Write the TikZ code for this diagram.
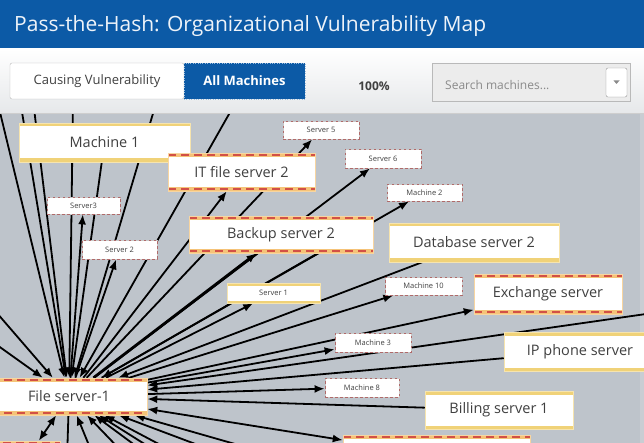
\documentclass[tikz,border=0pt]{standalone}
\usepackage{fontspec}
\setmainfont{Open Sans}
\usetikzlibrary{arrows.meta,backgrounds}

\definecolor{barblue}{HTML}{0C5AA6}
\definecolor{titlewhite}{HTML}{EEF3F9}
\definecolor{tbgray}{HTML}{E6E8EA}
\definecolor{graphbg}{HTML}{BEC4CB}
\definecolor{stripgray}{HTML}{C9CDD3}
\definecolor{bandyel}{HTML}{F0D278}
\definecolor{bandorg}{HTML}{F5C378}
\definecolor{bandred}{HTML}{D25046}
\definecolor{labeltext}{HTML}{404040}
\definecolor{smgray}{HTML}{C8C8C8}
\definecolor{smred}{HTML}{B06A6A}
\definecolor{btnline}{HTML}{B9B9B9}
\definecolor{searchfill}{HTML}{ECECEC}
\definecolor{searchtext}{HTML}{8A8A8A}

\newcommand{\biglabel}{\fontsize{14.5}{17}\selectfont}
\newcommand{\smalllabel}{\fontsize{7.5}{9}\selectfont}
\newcommand{\maptitle}{\fontsize{21}{25}\selectfont}
\newcommand{\barlabel}{\fontsize{13}{15}\selectfont}

\tikzset{
  yelbox/.style={rectangle, inner sep=0pt, fill=white, draw=bandyel!60, line width=0.5pt,
    text=labeltext, font=\biglabel,
    path picture={
      \fill[bandyel] (path picture bounding box.north west) rectangle ([yshift=-3.5pt]path picture bounding box.north east);
      \fill[bandyel] (path picture bounding box.south west) rectangle ([yshift=3.5pt]path picture bounding box.south east);
    }},
  tinyyel/.style={yelbox, font=\smalllabel,
    path picture={
      \fill[bandyel] (path picture bounding box.north west) rectangle ([yshift=-2.5pt]path picture bounding box.north east);
      \fill[bandyel] (path picture bounding box.south west) rectangle ([yshift=2.5pt]path picture bounding box.south east);
    }},
  redbox/.style={rectangle, inner sep=0pt, fill=white, draw=bandorg!70, line width=0.5pt,
    text=labeltext, font=\biglabel,
    path picture={
      \fill[bandorg] (path picture bounding box.north west) rectangle ([yshift=-4pt]path picture bounding box.north east);
      \fill[bandorg] (path picture bounding box.south west) rectangle ([yshift=4pt]path picture bounding box.south east);
      \draw[bandred, line width=2pt, dash pattern=on 8pt off 5pt]
        ([yshift=-2pt]path picture bounding box.north west) -- ([yshift=-2pt]path picture bounding box.north east);
      \draw[bandred, line width=2pt, dash pattern=on 8pt off 5pt]
        ([yshift=2pt]path picture bounding box.south west) -- ([yshift=2pt]path picture bounding box.south east);
    }},
  tinybox/.style={rectangle, inner sep=0pt, fill=white, draw=smgray, line width=0.8pt,
    text=labeltext, font=\smalllabel,
    postaction={draw=smred, line width=0.8pt, dash pattern=on 2.5pt off 2.5pt}},
  edge/.style={draw=black, line width=1.8pt, -{Latex[length=10pt,width=8pt]}},
  bothway/.style={draw=black, line width=1.8pt, {Latex[length=10pt,width=8pt]}-{Latex[length=10pt,width=8pt]}},
}

\begin{document}
\begin{tikzpicture}[x=1pt,y=-1pt]
  \useasboundingbox (0,0) rectangle (644,443);
  \clip (0,0) rectangle (644,443);

  % machines
  \node[redbox, minimum width=156pt, minimum height=37pt] (fileserver) at (69,396.5) {File server-1};
  \node[yelbox, minimum width=171pt, minimum height=39pt] (machA) at (104.5,142.5) {Machine 1};
  \node[redbox, minimum width=147pt, minimum height=38pt] (itfs) at (241.5,172) {IT file server 2};
  \node[tinybox, minimum width=76pt, minimum height=18pt] (srvFive) at (321,130) {Server 5};
  \node[tinybox, minimum width=76pt, minimum height=19pt] (srvSix) at (383,158.5) {Server 6};
  \node[tinybox, minimum width=75pt, minimum height=17pt] (machB) at (424.5,192.5) {Machine 2};
  \node[tinybox, minimum width=73pt, minimum height=17pt] (srvThree) at (83.5,205.5) {Server3};
  \node[tinybox, minimum width=75pt, minimum height=19pt] (srvTwo) at (119.5,249.5) {Server 2};
  \node[redbox, minimum width=184pt, minimum height=37pt] (backup) at (281,234.5) {Backup server 2};
  \node[yelbox, minimum width=170pt, minimum height=39pt] (dbsrv) at (474,242.5) {Database server 2};
  \node[tinyyel, minimum width=93pt, minimum height=20pt] (srvOne) at (273.5,293) {Server 1};
  \node[tinybox, minimum width=77pt, minimum height=18pt] (machJ) at (423.5,286) {Machine 10};
  \node[redbox, minimum width=148pt, minimum height=40pt] (exch) at (548,294) {Exchange server};
  \node[tinybox, minimum width=76pt, minimum height=19pt] (machC) at (373,342.5) {Machine 3};
  \node[yelbox, minimum width=152pt, minimum height=39pt] (ipphone) at (580,351.5) {IP phone server};
  \node[tinybox, minimum width=74pt, minimum height=19pt] (machH) at (362,387.5) {Machine 8};
  \node[yelbox, minimum width=148pt, minimum height=38pt] (billing) at (499,410) {Billing server 1};
  \node[redbox, minimum width=187pt, minimum height=40pt] (bm) at (436.5,455) {};
  \node[redbox, minimum width=70pt, minimum height=40pt] (bl) at (25,461) {};

  % hosts outside the view
  \coordinate (topA) at (-3,100);
  \coordinate (topB) at (20,100);
  \coordinate (topC) at (33,100);
  \coordinate (topD) at (73,100);
  \coordinate (topE) at (157,100);
  \coordinate (topF) at (237,100);
  \coordinate (leftA) at (-10,305);
  \coordinate (leftB) at (-10,340);
  \coordinate (rightA) at (660,312);
  \coordinate (botA) at (67,460);
  \coordinate (botB) at (95,460);
  \coordinate (botC) at (130,460);
  \coordinate (botD) at (155,460);
  \coordinate (botE) at (170,460);
  \coordinate (botF) at (189,460);
  \coordinate (botG) at (238,460);
  \coordinate (botH) at (291,460);

  % graph area and connections, under the boxes
  \begin{scope}[on background layer]
    \fill[graphbg] (0,100) rectangle (644,443);
    \fill[stripgray] (640,113) rectangle (644,443);
    \draw[edge] (topA) -- (fileserver);
    \draw[edge] (topB) -- (fileserver);
    \draw[edge] (topC) -- (fileserver);
    \draw[edge] (topD) -- (fileserver);
    \draw[edge] (topE) -- (fileserver);
    \draw[edge] (topF) -- (fileserver);
    \draw[edge] (machA) -- (fileserver);
    \draw[edge] (leftA) -- (fileserver);
    \draw[edge] (leftB) -- (fileserver);
    \draw[line width=1.8pt] (botA) -- (fileserver);
    \draw[edge] (botB) -- (fileserver);
    \draw[edge] (botC) -- (fileserver);
    \draw[edge] (botD) -- (fileserver);
    \draw[edge] (botE) -- (fileserver);
    \draw[edge] (botF) -- (fileserver);
    \draw[edge] (botG) -- (fileserver);
    \draw[edge] (botH) -- (fileserver);
    \draw[edge] (dbsrv) -- (fileserver);
    \draw[edge] (rightA) -- (fileserver);
    \draw[edge] (ipphone) -- (fileserver);
    \draw[edge] (billing) -- (fileserver);
    \draw[edge] (backup.-27) -- (fileserver);
    \draw[edge] (fileserver) -- (srvThree);
    \draw[edge] (fileserver) -- (srvTwo);
    \draw[edge] (fileserver) -- (itfs);
    \draw[edge] (fileserver) -- (srvFive);
    \draw[edge] (fileserver) -- (srvSix);
    \draw[edge] (fileserver) -- (machB);
    \draw[edge, line width=2.8pt] (fileserver) -- (backup);
    \draw[edge] (fileserver) -- (srvOne);
    \draw[edge] (fileserver) -- (machJ);
    \draw[edge] (fileserver) -- (exch);
    \draw[edge] (fileserver) -- (machC);
    \draw[edge] (fileserver) -- (machH);
    \draw[bothway] (fileserver) -- (bm);
    \draw[bothway] (fileserver) -- (bl);
  \end{scope}

  % header and toolbar
  \fill[barblue] (0,0) rectangle (644,49);
  \node[anchor=base west, inner sep=0pt, text=titlewhite, font=\maptitle] (title) at (14,32)
    {Pass-the-Hash: Organizational Vulnerability Map};
  \shade[top color=white, bottom color=tbgray] (0,49) rectangle (644,113);
  \draw[btnline!70] (0,113) -- (644,113);

  \node[rectangle, rounded corners=2pt, fill=white, draw=btnline, minimum width=174pt, minimum height=36pt,
    text=labeltext, font=\barlabel] (causing) at (97,81) {Causing Vulnerability};
  \node[rectangle, fill=barblue, draw=barblue!40, dotted, minimum width=121pt, minimum height=36pt,
    text=white, font=\barlabel\bfseries] (allmach) at (244.5,81) {All Machines};
  \node[text=labeltext, font=\fontsize{12}{14}\selectfont\bfseries] (zoomlvl) at (374,86) {100\%};
  \node[rectangle, fill=searchfill, draw=btnline, minimum width=198pt, minimum height=38pt] (search) at (531,82) {};
  \node[anchor=west, inner sep=0pt, text=searchtext, font=\fontsize{12}{14}\selectfont] (searchtxt) at (445,85.5) {Search machines...};
  \node[rectangle, rounded corners=2pt, fill=white, draw=btnline!80!black, minimum width=21pt, minimum height=29pt] (dropbtn) at (616.5,82.5) {};
  \fill[searchtext] (613.5,80.5) -- (619.5,80.5) -- (616.5,84) -- cycle;
\end{tikzpicture}
\end{document}
